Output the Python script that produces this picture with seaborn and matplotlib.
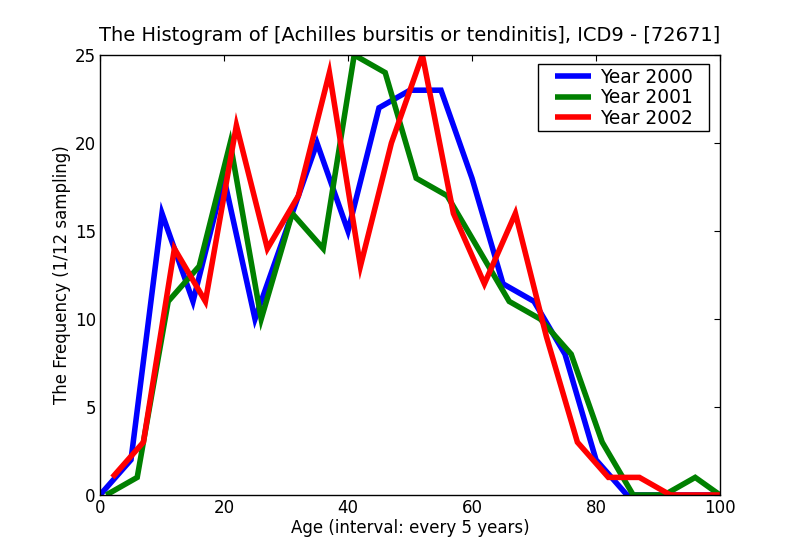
import numpy as np
import pandas as pd
import matplotlib
matplotlib.use('Agg')
import matplotlib.pyplot as plt
from matplotlib.path import Path
import seaborn as sns

# dados (idade x frequência)
x_2000 = [0, 5, 10, 15, 20, 25, 30, 35, 40, 45, 50, 55, 60, 65, 70, 75, 80, 85, 90, 95, 100]
y_2000 = [0, 2, 16, 11, 18, 10, 15, 20, 15, 22, 23, 23, 18, 12, 11, 8, 2, 0, 0, 0, 0]

x_2001 = [1, 6, 11, 16, 21, 26, 31, 36, 41, 46, 51, 56, 61, 66, 71, 76, 81, 86, 91, 96, 100]
y_2001 = [0, 1, 11, 13, 20, 10, 16, 14, 25, 24, 18, 17, 14, 11, 10, 8, 3, 0, 0, 1, 0]

x_2002 = [2, 7, 12, 17, 22, 27, 32, 37, 42, 47, 52, 57, 62, 67, 72, 77, 82, 87, 92, 97, 102]
y_2002 = [1, 3, 14, 11, 21, 14, 17, 24, 13, 20, 25, 16, 12, 16, 9, 3, 1, 1, 0, 0, 0]

anos = ['Year 2000', 'Year 2001', 'Year 2002']
cores = ['#0000ff', '#008000', '#ff0000']

df = pd.concat([
    pd.DataFrame({'idade': x_2000, 'freq': y_2000, 'ano': anos[0]}),
    pd.DataFrame({'idade': x_2001, 'freq': y_2001, 'ano': anos[1]}),
    pd.DataFrame({'idade': x_2002, 'freq': y_2002, 'ano': anos[2]}),
])

sns.set_style('white')
plt.rcParams['font.family'] = ['DejaVu Sans']
plt.rcParams['font.size'] = 12
plt.rcParams['text.color'] = 'black'
plt.rcParams['axes.labelcolor'] = 'black'
plt.rcParams['lines.solid_joinstyle'] = 'miter'
plt.rcParams['lines.solid_capstyle'] = 'butt'

fig = plt.figure(figsize=(8, 5.5), dpi=100)
ax = fig.add_axes([0.125, 0.1, 0.775, 0.8])

sns.lineplot(data=df, x='idade', y='freq', hue='ano', palette=cores,
             linewidth=4, sort=False, estimator=None, ax=ax)

ax.set_xlim(0, 100)
ax.set_ylim(0, 25)
ax.set_xticks([0, 20, 40, 60, 80, 100])
ax.set_yticks([0, 5, 10, 15, 20, 25])
ax.tick_params(direction='in', top=True, right=True, length=4, width=0.8,
               labelsize=12, colors='black', pad=3)
for s in ax.spines.values():
    s.set_color('black')
    s.set_linewidth(1)

ax.set_xlabel('Age (interval: every 5 years)', fontsize=12, color='black', labelpad=1)
ax.set_ylabel('The Frequency (1/12 sampling)', fontsize=12, color='black', labelpad=3)
ax.set_title('The Histogram of [Achilles bursitis or tendinitis], ICD9 - [72671]',
             fontsize=14, pad=10, color='black')

leg = ax.legend(loc='upper right', bbox_to_anchor=(0.9616, 0.979), borderaxespad=0,
                fontsize=13.4, fancybox=False, framealpha=1, edgecolor='black',
                handlelength=1.94, borderpad=0.2, labelspacing=0.07,
                handletextpad=0.48)
leg.get_frame().set_linewidth(1)
for t in leg.get_texts():
    t.set_color('black')


# moldura da legenda mais larga na horizontal (como no estilo antigo)
def caixa_legenda(x0, y0, width, height, mutation_size):
    hx = 12.8
    x0 = x0 - hx
    width = width + 2 * hx
    return Path([(x0, y0), (x0 + width, y0), (x0 + width, y0 + height),
                 (x0, y0 + height), (x0, y0)], closed=True)


leg.get_frame().set_boxstyle(caixa_legenda)

fig.savefig('out.png', dpi=100)
